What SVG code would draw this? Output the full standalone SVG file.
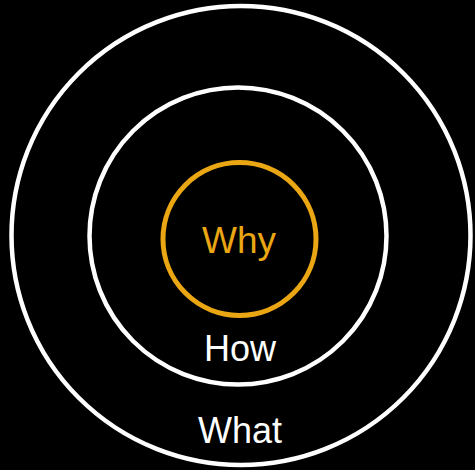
<svg xmlns="http://www.w3.org/2000/svg" width="475" height="470" viewBox="0 0 475 470">
<style>
.ring{fill:none;stroke:#ffffff;stroke-width:4.5}
.lbl{font-family:"Liberation Sans",Arial,sans-serif;font-size:36px;text-anchor:middle;fill:#ffffff}
</style>
<rect width="475" height="470" fill="#000000"/>
<g id="what">
<circle class="ring" cx="241" cy="235.5" r="229.5"/>
<text class="lbl" x="240" y="443">What</text>
</g>
<g id="how">
<circle class="ring" cx="238" cy="236" r="148.5"/>
<text class="lbl" x="240" y="361">How</text>
</g>
<g id="why">
<circle cx="239.5" cy="239" r="76.5" fill="none" stroke="#EAA613" stroke-width="5"/>
<text class="lbl" x="239" y="253" style="fill:#EAA613;font-size:37px">Why</text>
</g>
<g id="connectors"/>
</svg>
